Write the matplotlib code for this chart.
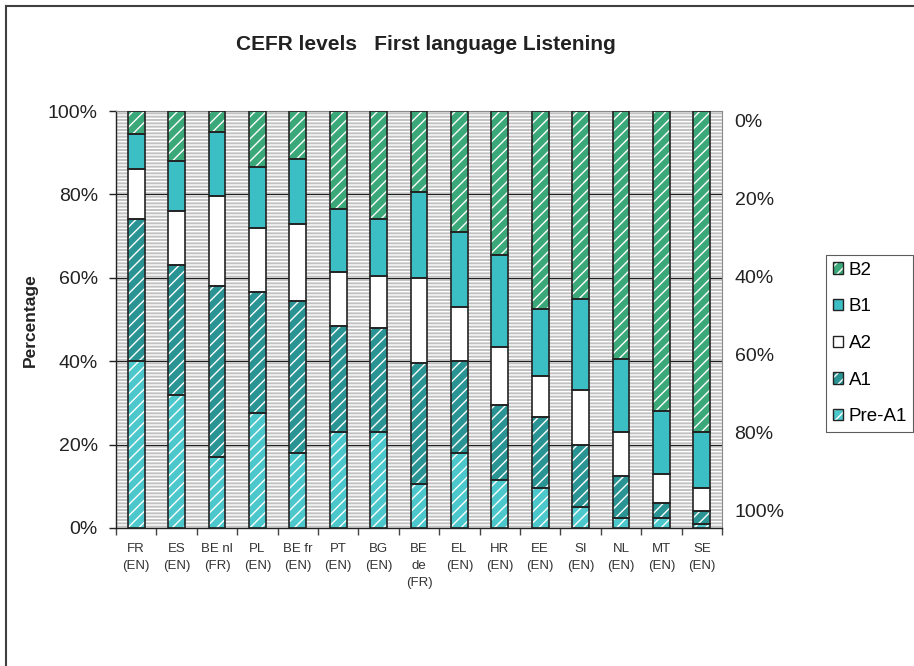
import matplotlib
matplotlib.use("Agg")
import matplotlib.pyplot as plt
from matplotlib.patches import Patch, Rectangle
from matplotlib.lines import Line2D
import numpy as np

plt.rcParams['font.family'] = ['Liberation Sans', 'DejaVu Sans']
plt.rcParams['hatch.linewidth'] = 1.0

# Dados (percentagem por nível CEFR)
paises = ["FR\n(EN)", "ES\n(EN)", "BE nl\n(FR)", "PL\n(EN)", "BE fr\n(EN)", "PT\n(EN)",
          "BG\n(EN)", "BE\nde\n(FR)", "EL\n(EN)", "HR\n(EN)", "EE\n(EN)", "SI\n(EN)",
          "NL\n(EN)", "MT\n(EN)", "SE\n(EN)"]
niveis = ["Pre-A1", "A1", "A2", "B1", "B2"]
pre_a1 = [40, 32, 17, 27.5, 18, 23, 23, 10.5, 18, 11.5, 9.5, 5, 2.5, 2.5, 1]
a1 = [34, 31, 41, 29, 36.5, 25.5, 25, 29, 22, 18, 17, 15, 10, 3.5, 3]
a2 = [12, 13, 21.5, 15.5, 18.5, 13, 12.5, 20.5, 13, 14, 10, 13, 10.5, 7, 5.5]
b1 = [8.5, 12, 15.5, 14.5, 15.5, 15, 13.5, 20.5, 18, 22, 16, 22, 17.5, 15, 13.5]
b2 = [5.5, 12, 5, 13.5, 11.5, 23.5, 26, 19.5, 29, 34.5, 47.5, 45, 59.5, 72, 77]
escala_direita = ["0%", "20%", "40%", "60%", "80%", "100%"]

series = [pre_a1, a1, a2, b1, b2]
cores = ['#4cc8cc', '#2a9494', 'white', '#3cbfc4', '#3aa878']
hachuras = ['///', '///', None, None, '///']

W, H = 914, 666
fig = plt.figure(figsize=(W / 100, H / 100), dpi=100)
ax = fig.add_axes([116 / W, 1 - 528 / H, (722 - 116) / W, (528 - 111) / H])

# Fundo cinza listrado
ax.add_patch(Rectangle((0, 0), 1, 1, transform=ax.transAxes, facecolor='#c2c2c2',
                       edgecolor='white', hatch='-----', lw=0, zorder=0))
ax.patch.set_visible(False)

x = np.arange(len(paises))
largura = 0.42
base = np.zeros(len(paises))
handles = []
for vals, cor, h, nome in zip(series, cores, hachuras, niveis):
    vals = np.array(vals, dtype=float)
    ax.bar(x, vals, largura, bottom=base, color=cor, hatch=h, edgecolor='white',
           linewidth=0, zorder=2)
    ax.bar(x, vals, largura, bottom=base, fill=False, edgecolor='#222222',
           linewidth=1.2, zorder=3)
    base += vals
    handles.append((Patch(facecolor=cor, hatch=h, edgecolor='white', lw=0),
                    Patch(fill=False, edgecolor='#222222', lw=1.0)))

ax.set_xlim(-0.5, len(paises) - 0.5)
ax.set_ylim(0, 100)
for g in [20, 40, 60, 80]:
    ax.axhline(g, color='#202020', lw=0.8, zorder=1)

ax.set_yticks([0, 20, 40, 60, 80, 100])
ax.set_yticklabels([f"{v}%" for v in range(0, 101, 20)], fontsize=14, color='#222222')
ax.tick_params(axis='y', length=5, width=1, pad=8, color='#222222')
ax.set_xticks(x)
ax.set_xticklabels(paises, fontsize=9.5, color='#333333', linespacing=1.55, va='top')
ax.tick_params(axis='x', which='major', length=0, pad=11)
ax.set_xticks(np.arange(len(paises) + 1) - 0.5, minor=True)
ax.tick_params(axis='x', which='minor', length=5, width=1, color='#444444')

for s in ['top', 'right']:
    ax.spines[s].set_color('#8a8a8a')
for s in ['left', 'bottom']:
    ax.spines[s].set_color('#222222')
    ax.spines[s].set_linewidth(1.0)

fig.text(30 / W, 1 - 320 / H, "Percentage", fontsize=12.5, fontweight='bold',
         rotation=90, ha='center', va='center', color='#222222')

# Escala invertida à direita
ax2 = ax.twinx()
ax2.set_ylim(104.6, -2.4)
ax2.set_yticks([0, 20, 40, 60, 80, 100])
ax2.set_yticklabels(escala_direita, fontsize=14, color='#222222')
ax2.tick_params(axis='y', length=0, pad=9)
for s in ax2.spines.values():
    s.set_visible(False)

fig.text(426 / W, 1 - 44 / H, "CEFR levels   First language Listening", fontsize=15,
         fontweight='bold', ha='center', va='center', color='#222222')

leg = fig.legend(handles[::-1], niveis[::-1], loc='upper left',
                 bbox_to_anchor=(826 / W, 1 - 255 / H), bbox_transform=fig.transFigure,
                 fontsize=13.5, frameon=True, fancybox=False, edgecolor='#333333',
                 handlelength=0.55, handleheight=0.55, handletextpad=0.3,
                 labelspacing=1.05, borderpad=0.35, borderaxespad=0)
leg.get_frame().set_linewidth(0.8)

# Moldura da figura (esquerda e topo)
fig.add_artist(Line2D([6 / W, 6 / W], [0, 1 - 6 / H], color='#404040', lw=1.5))
fig.add_artist(Line2D([6 / W, 1], [1 - 6 / H, 1 - 6 / H], color='#404040', lw=1.5))

fig.savefig("out.png", dpi=100)
